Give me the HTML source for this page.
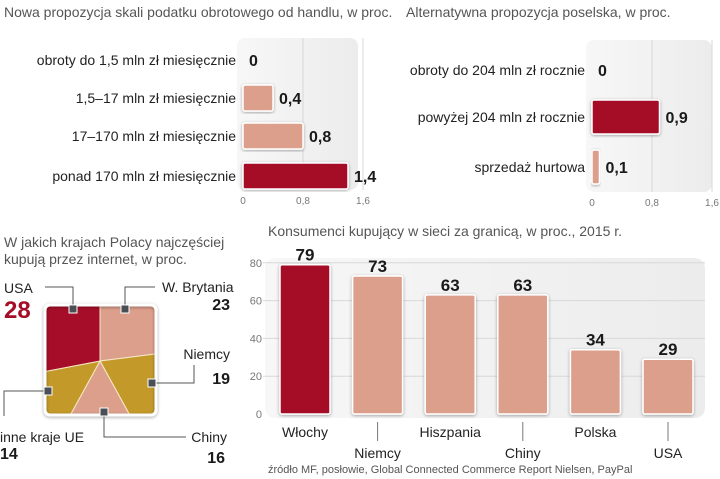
<!DOCTYPE html>
<html><head><meta charset="utf-8">
<style>
html,body{margin:0;padding:0;background:#fff;}
body{width:720px;height:479px;overflow:hidden;position:relative;}
svg{position:absolute;left:0;top:0;}
text{font-family:"Liberation Sans Narrow","Liberation Sans",sans-serif;}
.ttl{font-size:14px;fill:#555;font-weight:300;}
.lab{font-size:14px;fill:#222;}
.val{font-size:16px;font-weight:bold;fill:#1a1a1a;}
.tick{font-size:10px;fill:#777;}
</style></head>
<body>
<svg id="chart" width="720" height="479" viewBox="0 0 720 479">
<defs>
<linearGradient id="pg" x1="0" x2="1" y1="0" y2="0"><stop offset="0" stop-color="#f7f7f7"/><stop offset="1" stop-color="#ececec"/></linearGradient>
<filter id="sh" x="-10%" y="-10%" width="120%" height="120%"><feDropShadow dx="0" dy="1" stdDeviation="1.5" flood-opacity="0.35"/></filter>
<clipPath id="pieclip"><rect x="45" y="305" width="111" height="110" rx="5"/></clipPath>
</defs>
<text x="4" y="17" class="ttl">Nowa propozycja skali podatku obrotowego od handlu, w proc.</text>
<text x="406" y="17" class="ttl">Alternatywna propozycja poselska, w proc.</text>
<text x="4" y="247" class="ttl">W jakich krajach Polacy najczęściej</text>
<text x="4" y="264" class="ttl">kupują przez internet, w proc.</text>
<text x="268" y="236" class="ttl">Konsumenci kupujący w sieci za granicą, w proc., 2015 r.</text>
<text x="268" y="473" style="font-size:11px;fill:#555">źródło MF, posłowie, Global Connected Commerce Report  Nielsen, PayPal</text>
<g id="g1"></g><g id="g2"></g><g id="g3"></g><g id="g4"></g>
</svg>
<script>
const c1Labels=["obroty do 1,5 mln zł miesięcznie","1,5–17 mln zł miesięcznie","17–170 mln zł miesięcznie","ponad 170 mln zł miesięcznie"];
const c1Values=[0,0.4,0.8,1.4];
const c1ValText=["0","0,4","0,8","1,4"];
const c2Labels=["obroty do 204 mln zł rocznie","powyżej 204 mln zł rocznie","sprzedaż hurtowa"];
const c2Values=[0,0.9,0.1];
const c2ValText=["0","0,9","0,1"];
const hTicks=[0,0.8,1.6];
const hTickText=["0","0,8","1,6"];
const pieLabels=["W. Brytania","Niemcy","Chiny","inne kraje UE","USA"];
const pieValues=[23,19,16,14,28];
const barCats=["Włochy","Niemcy","Hiszpania","Chiny","Polska","USA"];
const barValues=[79,73,63,63,34,29];
const yTicks=[0,20,40,60,80];
const NS="http://www.w3.org/2000/svg";
function mk(p,t,a,txt){const e=document.createElementNS(NS,t);for(const k in a)e.setAttribute(k,a[k]);if(txt!==undefined)e.textContent=txt;p.appendChild(e);return e;}
const DARK="#a50d28",LIGHT="#dc9f8b";
function hchart(g,x0,top,bottom,right,rows,labels,values,vtext,barH,highlight){
  const sx=v=>x0+v*75;
  const p=mk(g,'rect',{x:x0-6,y:top,width:right-x0+6,height:bottom-top,rx:8,fill:'url(#pg)'});
  
  hTicks.forEach((t,i)=>{
    if(t>0){const l=mk(g,'line',{x1:sx(t),x2:sx(t),y1:top,y2:bottom,stroke:'#d8d8d8'});
    }
    const tx=mk(g,'text',{x:sx(t),y:bottom+14,'text-anchor':'middle',class:'tick'},hTickText[i]);
    
  });
  labels.forEach((lb,i)=>{
    const cy=rows[i];
    const t=mk(g,'text',{x:x0-7,y:cy+5,'text-anchor':'end',class:'lab'},lb);
    
    const w=sx(values[i])-x0;
    if(w>0){const r=mk(g,'rect',{x:x0,y:cy-barH/2,width:w,height:barH,rx:2,fill:i===highlight?DARK:LIGHT,stroke:'#fff','stroke-width':1.5,filter:'url(#sh)'});
    }
    const v=mk(g,'text',{x:sx(values[i])+6,y:cy+6,class:'val'},vtext[i]);
    
  });
}
hchart(document.getElementById('g1'),243,38,190,358,[60,98,136,176],c1Labels,c1Values,c1ValText,26,3);
hchart(document.getElementById('g2'),592,40,192,712,[70,117,167],c2Labels,c2Values,c2ValText,34,1);

(function(){
  const g=document.getElementById('g3');
  const L=45,R=156,T=305,B=415,cx=100,cy=361;
  const cols=[LIGHT,"#c39a2a",LIGHT,"#c39a2a",DARK];
  const total=pieValues.reduce((a,b)=>a+b,0);
  function edge(a){const dx=Math.sin(a),dy=-Math.cos(a);let t=1e9;
    if(dx>1e-9)t=Math.min(t,(R-cx)/dx);if(dx<-1e-9)t=Math.min(t,(L-cx)/dx);
    if(dy>1e-9)t=Math.min(t,(B-cy)/dy);if(dy<-1e-9)t=Math.min(t,(T-cy)/dy);
    return [cx+dx*t,cy+dy*t];}
  const gc=mk(g,'g',{'clip-path':'url(#pieclip)'});
  const bg=mk(g,'rect',{x:L,y:T,width:R-L,height:B-T,rx:5,fill:'none',stroke:'#fff','stroke-width':3,filter:'url(#sh)'});
  
  let acc=0;
  pieValues.forEach((v,i)=>{
    const a0=acc/total*2*Math.PI;acc+=v;const a1=acc/total*2*Math.PI;
    let pts=[[cx,cy]];const n=60;
    for(let k=0;k<=n;k++)pts.push(edge(a0+(a1-a0)*k/n));
    const p=mk(gc,'polygon',{points:pts.map(q=>q.join(',')).join(' '),fill:cols[i],stroke:'#f6e9c8','stroke-width':1});
    
  });
  const leaders=[
    {path:"M125,309 V287 H155",mx:125,my:309,lab:[162,292,'start'],val:[230,310,'end']},
    {path:"M152,383 H194 V365",mx:152,my:383,lab:[230,359,'end'],val:[230,384,'end']},
    {path:"M104,412 V437 H186",mx:104,my:412,lab:[227,442,'end'],val:[225,463,'end']},
    {path:"M48,391 H4 V416",mx:48,my:391,lab:[0,442,'start'],val:[0,459,'start']},
    {path:"M73,309 V287 H45",mx:73,my:309,lab:[4,293,'start'],val:[4,318,'start']}
  ];
  leaders.forEach((ld,i)=>{
    const l=mk(g,'path',{d:ld.path,fill:'none',stroke:'#555','stroke-width':1});
    
    const m=mk(g,'rect',{x:ld.mx-4,y:ld.my-4,width:8,height:8,fill:'#4a4f55',stroke:'#fff','stroke-width':1});
    
    const t=mk(g,'text',{x:ld.lab[0],y:ld.lab[1],'text-anchor':ld.lab[2],class:'lab'},pieLabels[i]);
    
    const big=i===4;
    const vv=mk(g,'text',{x:ld.val[0],y:ld.val[1],'text-anchor':ld.val[2],class:'val',style:big?'font-size:24px;fill:'+DARK:''},String(pieValues[i]));
    
  });
})();

(function(){
  const g=document.getElementById('g4');
  const y0=414,k=1.89,sy=v=>y0-v*k;
  const xs=i=>305+i*72.6,bw=50;
  const bg=mk(g,'rect',{x:265,y:258,width:440,height:160,rx:10,fill:'url(#pg)'});
  
  yTicks.forEach(t=>{
    if(t>0){const l=mk(g,'line',{x1:263,x2:705,y1:sy(t),y2:sy(t),stroke:'#d8d8d8'});
    }
    const tx=mk(g,'text',{x:262,y:sy(t)+4,'text-anchor':'end',class:'tick',style:'font-size:11px'},String(t));
    
  });
  barCats.forEach((c,i)=>{
    const x=xs(i);
    const r=mk(g,'rect',{x:x-bw/2,y:sy(barValues[i]),width:bw,height:y0-sy(barValues[i]),rx:2,fill:i===0?DARK:LIGHT,stroke:'#fff','stroke-width':1.5,filter:'url(#sh)'});
    
    const v=mk(g,'text',{x:x,y:sy(barValues[i])-4,'text-anchor':'middle',class:'val',style:'font-size:17px'},String(barValues[i]));
    
    const low=i%2===1;
    if(low){const l=mk(g,'line',{x1:x,x2:x,y1:422,y2:441,stroke:'#777'});
      }
    const t=mk(g,'text',{x:x,y:low?458:437,'text-anchor':'middle',class:'lab'},c);
    
  });
})();
</script>
</body></html>
